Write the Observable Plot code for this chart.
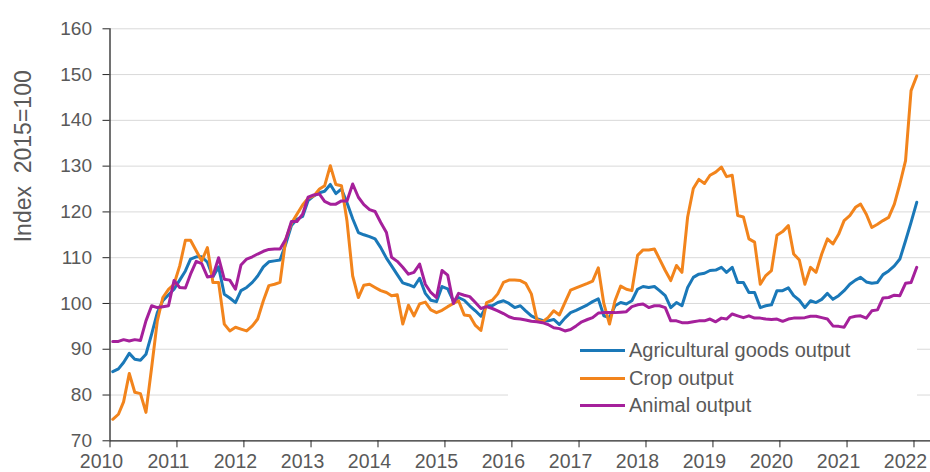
<!DOCTYPE html>
<html>
<head>
<meta charset="utf-8">
<script src="https://cdn.jsdelivr.net/npm/d3@7"></script>
<script src="https://cdn.jsdelivr.net/npm/@observablehq/plot@0.6"></script>
<style>
html, body { margin: 0; padding: 0; background: #fff; }
#wrap { position: relative; width: 930px; height: 472px; font-family: "Liberation Sans", Arial, sans-serif; }
#legend { position: absolute; left: 508px; top: 336px; width: 409px; height: 88px; background: #fff; }
.row { position: absolute; left: 72px; height: 24px; display: flex; align-items: center; }
.sw { width: 45px; height: 3px; margin-right: 4px; }
.lab { font-size: 20px; color: #595959; white-space: nowrap; }
</style>
</head>
<body>
<div id="wrap"></div>
<script>
// Monthly index values, Jan 2010 – Jan 2022 (2015 = 100)
const startYear = 2010;
const seriesNames = ["Agricultural goods output", "Crop output", "Animal output"];
const seriesColors = ["#1a78b8", "#f2841c", "#a5209b"];
const yearTicks = [2010, 2011, 2012, 2013, 2014, 2015, 2016, 2017, 2018, 2019, 2020, 2021, 2022];
const yTicks = [70, 80, 90, 100, 110, 120, 130, 140, 150, 160];
const yTitle = "Index\u00a0 2015=100";

const agriOutput = [
  85.1, 85.7, 87.1, 89.1, 87.8, 87.6, 88.9, 93.3, 98.0, 100.6, 101.9, 103.1,
  105.1, 107.1, 109.7, 110.2, 110.2, 109.0, 105.8, 108.0, 102.0, 101.2, 100.2, 102.8,
  103.5, 104.6, 106.0, 108.0, 109.1, 109.3, 109.5, 113.0, 117.0, 118.4, 119.0, 122.5,
  123.5, 124.2, 124.5, 126.0, 124.0, 125.0, 122.0, 118.5, 115.5, 115.0, 114.6, 114.1,
  112.2, 109.9, 108.2, 106.3, 104.5, 104.1, 103.6, 105.5, 102.2, 100.7, 100.4, 103.7,
  103.2, 100.5, 101.3, 100.7, 99.5, 98.4, 97.2, 99.5, 99.5, 100.2, 100.6, 100.0,
  99.1, 99.5, 98.4, 97.3, 96.7, 96.3, 96.2, 96.5, 95.4, 96.8, 98.0, 98.5,
  99.1, 99.7, 100.4, 101.0, 97.3, 96.9, 99.5, 100.2, 99.9, 100.6, 103.1, 103.7,
  103.5, 103.7, 102.8, 101.7, 99.1, 100.2, 99.5, 103.5, 105.7, 106.4, 106.6, 107.2,
  107.3, 107.9, 106.8, 107.9, 104.6, 104.6, 102.4, 102.4, 99.1, 99.5, 99.7, 102.8,
  102.8, 103.4, 101.7, 100.7, 99.1, 100.6, 100.2, 100.9, 102.2, 100.9, 101.7, 102.8,
  104.2, 105.1, 105.7, 104.7, 104.4, 104.6, 106.3, 107.1, 108.2, 109.7, 113.7, 117.7,
  122.1
];

const cropOutput = [
  74.7, 75.8, 78.5, 84.7, 80.6, 80.3, 76.2, 86.0, 96.2, 101.3, 103.1, 104.2,
  108.2, 113.8, 113.8, 111.5, 109.3, 112.2, 104.6, 104.6, 95.5, 94.0, 94.8, 94.4,
  94.0, 95.1, 96.6, 100.6, 103.9, 104.2, 104.6, 114.0, 117.5, 119.5, 121.5, 123.0,
  123.5, 125.0, 125.7, 130.1, 126.0, 125.7, 118.0, 106.0, 101.3, 104.0, 104.2, 103.5,
  102.8, 102.4, 101.7, 101.9, 95.5, 99.6, 97.3, 99.9, 100.3, 98.6, 98.0, 98.5,
  99.3, 100.0, 100.6, 97.5, 97.3, 95.2, 94.1, 100.2, 100.7, 102.1, 104.6, 105.1,
  105.1, 105.0, 104.4, 102.1, 96.5, 96.0, 96.9, 98.4, 97.5, 100.2, 102.9, 103.4,
  103.9, 104.4, 104.9, 107.8, 100.0, 95.5, 100.6, 103.8, 103.1, 102.8, 110.5, 111.7,
  111.7, 111.9, 109.7, 107.2, 105.0, 108.3, 106.8, 118.9, 125.1, 127.1, 126.2, 128.0,
  128.7, 129.8, 127.7, 128.0, 119.2, 118.9, 114.1, 113.4, 104.2, 106.1, 107.2, 114.9,
  115.7, 117.0, 110.8, 109.5, 104.2, 107.9, 106.8, 110.8, 114.1, 113.0, 115.1, 118.1,
  119.2, 121.0, 121.7, 119.5, 116.6, 117.3, 118.1, 118.8, 121.7, 126.1, 131.2, 146.5,
  149.7
];

const animalOutput = [
  91.7, 91.7, 92.1, 91.8, 92.1, 91.9, 96.2, 99.5, 99.1, 99.3, 99.5, 105.0,
  103.5, 103.4, 106.4, 109.2, 108.7, 105.8, 106.0, 110.0, 105.3, 105.1, 103.1, 108.4,
  109.7, 110.2, 110.8, 111.4, 111.8, 111.9, 111.9, 114.0, 117.9, 117.9, 119.5, 123.2,
  123.7, 123.9, 122.3, 121.7, 121.7, 122.4, 122.4, 126.1, 123.2, 121.6, 120.5, 120.1,
  117.7, 115.5, 110.1, 109.2, 107.9, 106.4, 106.8, 108.6, 104.2, 102.4, 101.3, 107.2,
  106.2, 100.0, 102.2, 101.8, 101.5, 100.2, 98.9, 99.3, 98.9, 98.4, 97.8, 97.1,
  96.7, 96.6, 96.4, 96.1, 96.0, 95.8, 95.4, 94.7, 94.5, 94.0, 94.3, 95.1,
  96.0, 96.5, 96.9, 97.9, 98.0, 98.0, 98.0, 98.1, 98.2, 99.3, 99.7, 99.9,
  99.1, 99.5, 99.5, 99.1, 96.2, 96.2, 95.8, 95.8, 96.0, 96.2, 96.2, 96.6,
  96.0, 96.8, 96.6, 97.7, 97.3, 96.9, 97.3, 96.8, 96.8, 96.6, 96.5, 96.6,
  96.1, 96.6, 96.8, 96.8, 96.9, 97.2, 97.2, 96.9, 96.6, 95.1, 95.0, 94.8,
  96.9, 97.2, 97.3, 96.8, 98.4, 98.6, 101.2, 101.3, 101.8, 101.7, 104.4, 104.6,
  107.9
];

const seriesValues = [agriOutput, cropOutput, animalOutput];

// build long table (points plotted at mid-month)
const rows = [];
seriesValues.forEach((vals, s) => {
  vals.forEach((v, i) => {
    rows.push({series: seriesNames[s], date: new Date(Date.UTC(startYear, i, 16)), value: v});
  });
});

const yearDates = yearTicks.map(y => new Date(Date.UTC(y, 0, 1)));
const xStart = yearDates[0];
const xEnd = new Date(Date.UTC(2022, 3, 1));

const chart = Plot.plot({
  width: 930,
  height: 472,
  marginLeft: 109.5,
  marginRight: 0,
  marginTop: 28.3,
  marginBottom: 31.7,
  style: {fontFamily: "'Liberation Sans', Arial, sans-serif", background: "#fff", color: "#595959", overflow: "visible"},
  x: {type: "utc", domain: [xStart, xEnd]},
  y: {domain: [yTicks[0], yTicks[yTicks.length - 1]]},
  color: {domain: seriesNames, range: seriesColors},
  marks: [
    Plot.gridY(yTicks.filter(d => d > yTicks[0]), {stroke: "#d9d9d9", strokeOpacity: 1, strokeWidth: 1}),
    Plot.ruleY([yTicks[0]], {stroke: "#262626", strokeWidth: 1.3}),
    Plot.ruleX([xStart], {stroke: "#262626", strokeWidth: 1.3}),
    Plot.axisY(yTicks, {tickSize: 7, tickPadding: 11, fontSize: 19, stroke: "#262626", fill: "#595959", label: null}),
    Plot.axisX(yearDates, {tickSize: 7, fill: "none", stroke: "#262626", label: null}),
    Plot.axisX(yearDates, {tickSize: 7, tickPadding: 6.5, stroke: "none", fill: "#595959", fontSize: 19.5, dx: -8.5, tickFormat: d3.utcFormat("%Y"), label: null}),
    Plot.line(rows, {x: "date", y: "value", stroke: "series", z: "series", strokeWidth: 3, strokeLinejoin: "round"}),
    Plot.text([yTitle], {frameAnchor: "left", rotate: -90, dx: -95, dy: 7.5, lineAnchor: "top", fontSize: 23, fill: "#595959"})
  ]
});

const wrap = document.getElementById("wrap");
wrap.appendChild(chart);

// legend overlay (white box inside the plot, lower right)
const legend = document.createElement("div");
legend.id = "legend";
const rowTops = [2.7, 30.3, 57.7];
seriesNames.forEach((name, i) => {
  const r = document.createElement("div");
  r.className = "row";
  r.style.top = rowTops[i] + "px";
  const sw = document.createElement("span");
  sw.className = "sw";
  sw.style.background = seriesColors[i];
  const lab = document.createElement("span");
  lab.className = "lab";
  lab.textContent = name;
  r.appendChild(sw);
  r.appendChild(lab);
  legend.appendChild(r);
});
wrap.appendChild(legend);
</script>
</body>
</html>
